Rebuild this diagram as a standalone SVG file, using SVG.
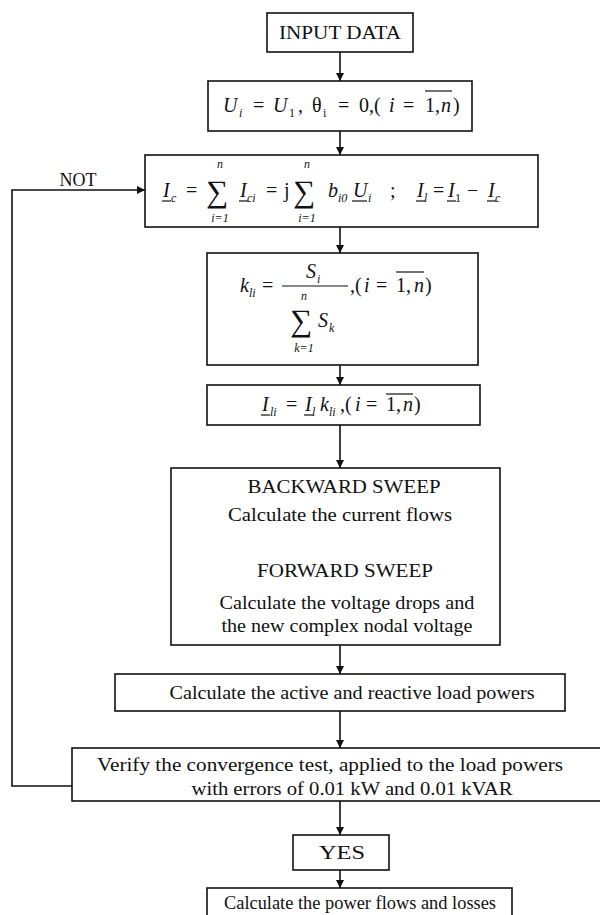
<svg xmlns="http://www.w3.org/2000/svg" width="600" height="915" viewBox="0 0 600 915">
<style>
.box{fill:#fff;stroke:#111;stroke-width:1.6}
.t{font-family:"Liberation Serif","Times New Roman",serif;font-size:18px;fill:#111;text-anchor:middle}
.m{font-family:"Liberation Serif","Times New Roman",serif;font-size:20px;fill:#111;font-style:italic}
.r{font-family:"Liberation Serif","Times New Roman",serif;font-size:20px;fill:#111}
.s{font-family:"Liberation Serif","Times New Roman",serif;font-size:12px;fill:#111;font-style:italic}
.sn{font-family:"Liberation Serif","Times New Roman",serif;font-size:12px;fill:#111}
.sg{font-family:"Liberation Serif","Times New Roman",serif;font-size:31px;fill:#111}
.lm{font-family:"Liberation Serif","Times New Roman",serif;font-size:12px;fill:#111;font-style:italic;text-anchor:middle}
.ul{stroke:#111;stroke-width:1.2}
.c{fill:none;stroke:#111;stroke-width:1.6}
</style>
<defs>
<marker id="ah" viewBox="0 0 10 10" refX="10" refY="5" markerWidth="8" markerHeight="8" orient="auto" markerUnits="userSpaceOnUse">
<path d="M0,0 L10,5 L0,10 z" fill="#111"/>
</marker>
</defs>
<rect width="600" height="915" fill="#fff"/>

<g id="connectors">
<line class="c" x1="340" y1="52" x2="340" y2="81" marker-end="url(#ah)"/>
<line class="c" x1="340" y1="131" x2="340" y2="155" marker-end="url(#ah)"/>
<line class="c" x1="340" y1="227" x2="340" y2="253" marker-end="url(#ah)"/>
<line class="c" x1="340" y1="365" x2="340" y2="385" marker-end="url(#ah)"/>
<line class="c" x1="340" y1="425" x2="340" y2="468" marker-end="url(#ah)"/>
<line class="c" x1="340" y1="645" x2="340" y2="674" marker-end="url(#ah)"/>
<line class="c" x1="340" y1="711" x2="340" y2="748" marker-end="url(#ah)"/>
<line class="c" x1="340" y1="801" x2="340" y2="835" marker-end="url(#ah)"/>
<line class="c" x1="340" y1="870" x2="340" y2="888" marker-end="url(#ah)"/>
<polyline class="c" points="72,786 12,786 12,190 145,190" marker-end="url(#ah)"/>
<text class="t" x="78" y="186">NOT</text>
</g>

<g id="input">
<rect class="box" x="267" y="13" width="146" height="39"/>
<text class="t" x="340" y="39" textLength="122" lengthAdjust="spacingAndGlyphs">INPUT DATA</text>
</g>

<g id="init">
<rect class="box" x="208" y="81" width="264" height="50"/>
<text class="m" x="223" y="112">U</text><text class="s" x="239" y="117">i</text>
<text class="r" x="253" y="112">=</text>
<text class="m" x="273" y="112">U</text><text class="sn" x="289" y="117">1</text>
<text class="r" x="298" y="112">,</text>
<text class="r" x="312" y="112">θ</text><text class="sn" x="323" y="117">i</text>
<text class="r" x="338" y="112">=</text>
<text class="r" x="359" y="112">0,(</text>
<text class="m" x="389" y="112">i</text>
<text class="r" x="403" y="112">=</text>
<text class="r" x="425" y="112">1,</text>
<text class="m" x="441" y="112">n</text>
<text class="r" x="453" y="112">)</text>
<line class="ul" x1="425" y1="91" x2="452" y2="91"/>
</g>

<g id="capacitive">
<rect class="box" x="145" y="155" width="393" height="72"/>
<text class="m" x="163" y="197">I</text><text class="s" x="171" y="202">c</text>
<line class="ul" x1="162" y1="201" x2="171" y2="201"/>
<text class="r" x="186" y="197">=</text>
<text class="sg" x="206" y="202">∑</text>
<text class="lm" x="220" y="168">n</text>
<text class="lm" x="220" y="222">i=1</text>
<text class="m" x="240" y="197">I</text><text class="s" x="247" y="202">ci</text>
<line class="ul" x1="239" y1="201" x2="248" y2="201"/>
<text class="r" x="266" y="197">=</text>
<text class="r" x="284" y="197">j</text>
<text class="sg" x="293" y="202">∑</text>
<text class="lm" x="307" y="168">n</text>
<text class="lm" x="307" y="222">i=1</text>
<text class="m" x="328" y="197">b</text><text class="s" x="338" y="202">i0</text>
<text class="m" x="353" y="197">U</text><text class="s" x="368" y="202">i</text>
<line class="ul" x1="352" y1="201" x2="367" y2="201"/>
<text class="r" x="390" y="197">;</text>
<text class="m" x="417" y="197">I</text><text class="s" x="424" y="202">l</text>
<line class="ul" x1="416" y1="201" x2="425" y2="201"/>
<text class="r" x="433" y="197">=</text>
<text class="m" x="448" y="197">I</text><text class="sn" x="455" y="202">1</text>
<line class="ul" x1="447" y1="201" x2="456" y2="201"/>
<text class="r" x="467" y="197">−</text>
<text class="m" x="488" y="197">I</text><text class="s" x="495" y="202">c</text>
<line class="ul" x1="487" y1="201" x2="496" y2="201"/>
</g>

<g id="distribution">
<rect class="box" x="207" y="253" width="271" height="112"/>
<text class="m" x="240" y="292">k</text><text class="s" x="249" y="297">li</text>
<text class="r" x="262" y="292">=</text>
<line class="ul" x1="282" y1="286" x2="348" y2="286"/>
<text class="m" x="306" y="278">S</text><text class="s" x="317" y="283">i</text>
<text class="r" x="350" y="292">,(</text>
<text class="m" x="364" y="292">i</text>
<text class="r" x="376" y="292">=</text>
<text class="r" x="396" y="292">1,</text>
<text class="m" x="414" y="292">n</text>
<text class="r" x="425" y="292">)</text>
<line class="ul" x1="396" y1="272" x2="424" y2="272"/>
<text class="sg" x="290" y="331">∑</text>
<text class="lm" x="304" y="300">n</text>
<text class="lm" x="304" y="352">k=1</text>
<text class="m" x="318" y="327">S</text><text class="s" x="329" y="332">k</text>
</g>

<g id="branch">
<rect class="box" x="207" y="385" width="273" height="40"/>
<text class="m" x="262" y="411">I</text><text class="s" x="270" y="416">li</text>
<line class="ul" x1="261" y1="415" x2="270" y2="415"/>
<text class="r" x="286" y="411">=</text>
<text class="m" x="305" y="411">I</text><text class="s" x="312" y="416">l</text>
<line class="ul" x1="304" y1="415" x2="313" y2="415"/>
<text class="m" x="320" y="411">k</text><text class="s" x="329" y="416">li</text>
<text class="r" x="340" y="411">,(</text>
<text class="m" x="355" y="411">i</text>
<text class="r" x="366" y="411">=</text>
<text class="r" x="386" y="411">1,</text>
<text class="m" x="403" y="411">n</text>
<text class="r" x="414" y="411">)</text>
<line class="ul" x1="386" y1="394" x2="413" y2="394"/>
</g>

<g id="sweep">
<rect class="box" x="171" y="468" width="329" height="177"/>
<text class="t" x="344" y="493" textLength="193" lengthAdjust="spacingAndGlyphs">BACKWARD SWEEP</text>
<text class="t" x="340" y="521" textLength="224" lengthAdjust="spacingAndGlyphs">Calculate the current flows</text>
<text class="t" x="345" y="577" textLength="176" lengthAdjust="spacingAndGlyphs">FORWARD SWEEP</text>
<text class="t" x="347" y="609" textLength="255" lengthAdjust="spacingAndGlyphs">Calculate the voltage drops and</text>
<text class="t" x="347" y="632" textLength="251" lengthAdjust="spacingAndGlyphs">the new complex nodal voltage</text>
</g>

<g id="loadpowers">
<rect class="box" x="115" y="674" width="450" height="37"/>
<text class="t" x="352" y="699" textLength="365" lengthAdjust="spacingAndGlyphs">Calculate the active and reactive load powers</text>
</g>

<g id="convergence">
<rect class="box" x="72" y="748" width="540" height="53"/>
<text class="t" x="330" y="771" textLength="466" lengthAdjust="spacingAndGlyphs">Verify the convergence test, applied to the load powers</text>
<text class="t" x="352" y="795" textLength="321" lengthAdjust="spacingAndGlyphs">with errors of 0.01 kW and 0.01 kVAR</text>
</g>

<g id="yes">
<rect class="box" x="293" y="835" width="96" height="35"/>
<text class="t" x="342" y="859" textLength="46" lengthAdjust="spacingAndGlyphs">YES</text>
</g>

<g id="final">
<rect class="box" x="207" y="888" width="305" height="40"/>
<text class="t" x="360" y="909" textLength="272" lengthAdjust="spacingAndGlyphs">Calculate the power flows and losses</text>
</g>
</svg>
